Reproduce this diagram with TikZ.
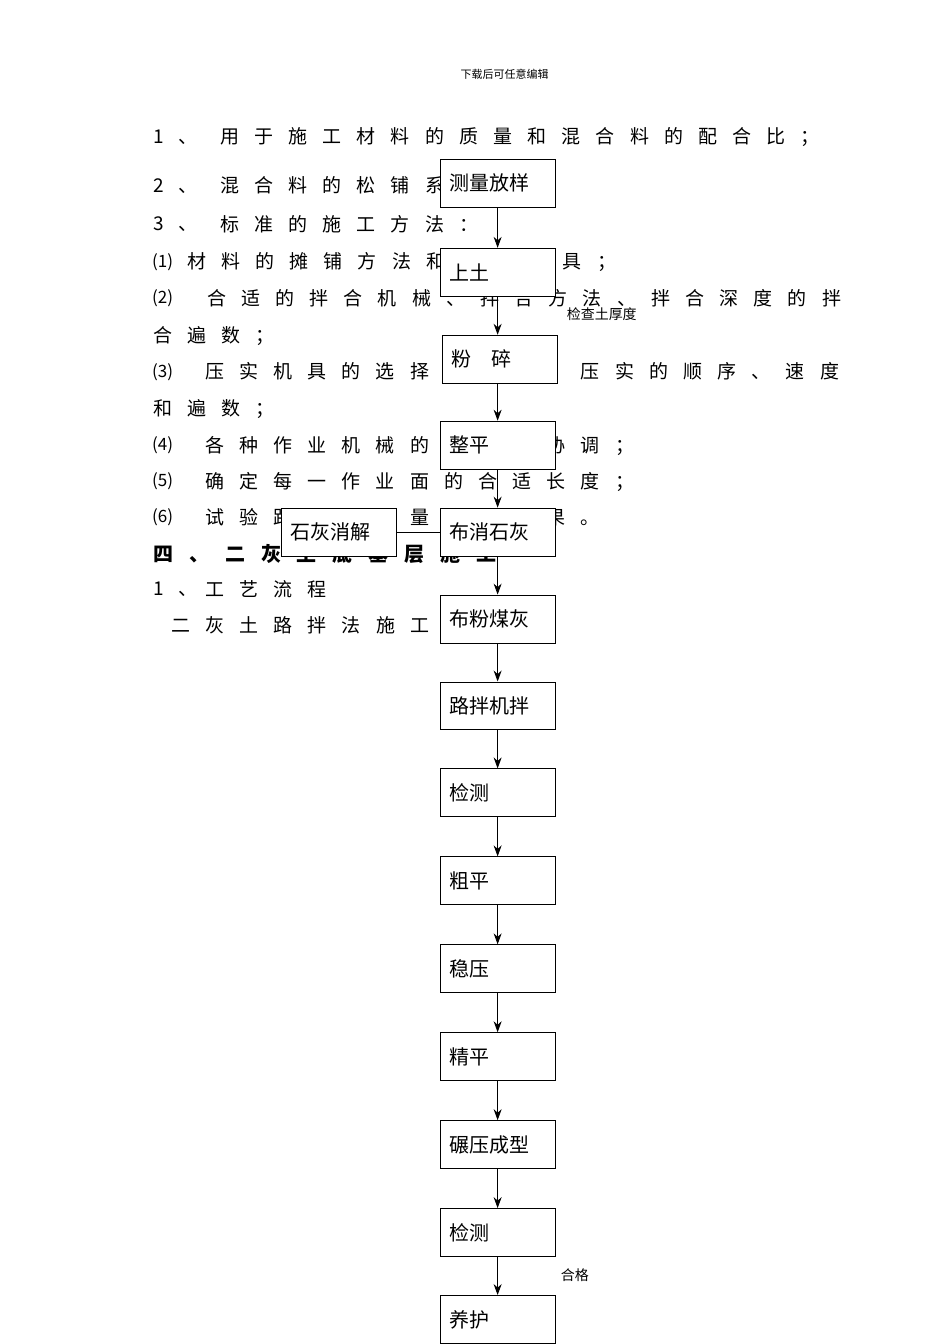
\documentclass[tikz,border=0pt]{standalone}
\usepackage{fontspec}
\setmainfont{Noto Sans CJK SC}
\newfontfamily\bodyf[LetterSpace=80]{Noto Sans CJK SC}
\newfontfamily\boxf{Noto Sans CJK SC}
\usetikzlibrary{arrows.meta}
\begin{document}
\begin{tikzpicture}[x=1pt,y=-1pt,
  txt/.style={anchor=west,inner sep=0pt,font=\fontsize{19}{19}\bodyf},
  num/.style={anchor=west,inner sep=0pt,font=\fontsize{17}{17}\boxf},
  stepbox/.style={draw,line width=1pt,fill=white,anchor=north west,minimum width=115pt,minimum height=48pt,inner sep=0pt,text width=97pt,align=left,font=\fontsize{20}{20}\boxf},
  arr/.style={-{Stealth[length=11pt,width=8pt]},line width=0.9pt},
  small/.style={inner sep=0pt,font=\fontsize{14}{14}\boxf}]
\fill[white] (0,0) rectangle (950,1344);
\node[small,font=\fontsize{11}{11}\boxf] (hdr) at (505,74) {下载后可任意编辑};
% body text
\node[txt] (t1a) at (153,137) {1、};
\node[txt] (t1) at (220,137) {用于施工材料的质量和混合料的配合比；};
\node[txt] (t2a) at (153,186) {2、};
\node[txt] (t2) at (220,186) {混合料的松铺系数；};
\node[txt] (t3a) at (153,224) {3、};
\node[txt] (t3) at (220,224) {标准的施工方法：};
\node[num] (t4a) at (152,262) {(1)};
\node[txt] (t4) at (187,262) {材料的摊铺方法和适用机具；};
\node[num] (t5a) at (152,298) {(2)};
\node[txt] (t5) at (207,298) {合适的拌合机械、拌合方法、拌合深度的拌};
\node[txt] (t6) at (153,336) {合遍数；};
\node[num] (t7a) at (152,372) {(3)};
\node[txt] (t7) at (205,372) {压实机具的选择和组合、压实的顺序、速度};
\node[txt] (t8) at (153,409) {和遍数；};
\node[num] (t9a) at (152,446) {(4)};
\node[txt] (t9) at (205,446) {各种作业机械的配合和协调；};
\node[num] (t10a) at (152,482) {(5)};
\node[txt] (t10) at (205,482) {确定每一作业面的合适长度；};
\node[num] (t11a) at (152,518) {(6)};
\node[txt] (t11) at (205,518) {试验路段的质量检验结果。};
\node[txt,font=\fontsize{20}{20}\bodyf\bfseries] (t12) at (153,554) {四、二灰土底基层施工};
\node[txt] (t13a) at (153,590) {1、};
\node[txt] (t13) at (205,590) {工艺流程};
\node[txt] (t14) at (171,626) {二灰土路拌法施工流程图：};
% flowchart
\node[stepbox] (b1) at (440,159) {测量放样};
\node[stepbox] (b2) at (440,248) {上土};
\node[stepbox] (b3) at (442,335) {粉\quad 碎};
\node[stepbox] (b4) at (440,421) {整平};
\node[stepbox] (b5) at (440,508) {布消石灰};
\node[stepbox] (b5l) at (281,508) {石灰消解};
\node[stepbox] (b6) at (440,595) {布粉煤灰};
\node[stepbox] (b7) at (440,682) {路拌机拌};
\node[stepbox] (b8) at (440,769) {检测};
\node[stepbox] (b9) at (440,857) {粗平};
\node[stepbox] (b10) at (440,945) {稳压};
\node[stepbox] (b11) at (440,1033) {精平};
\node[stepbox] (b12) at (440,1121) {碾压成型};
\node[stepbox] (b13) at (440,1209) {检测};
\node[stepbox] (b14) at (440,1296) {养护};
\foreach \a/\b in {b1/b2,b2/b3,b3/b4,b4/b5,b5/b6,b6/b7,b7/b8,b8/b9,b9/b10,b10/b11,b11/b12,b12/b13,b13/b14}
  \draw[arr] (\a.south -| 498,0) -- (\b.north -| 498,0);
\draw[line width=0.8pt] (b5l.east) -- (b5.west);
\node[small,anchor=west] (l1) at (567,314) {检查土厚度};
\node[small,anchor=west] (l2) at (561,1276) {合格};
\end{tikzpicture}
\end{document}
